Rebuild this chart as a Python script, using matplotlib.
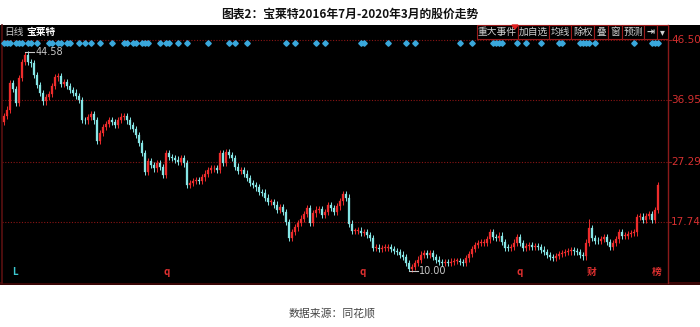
import matplotlib
matplotlib.use('Agg')
import matplotlib.pyplot as plt
from matplotlib.patches import Rectangle
from matplotlib.transforms import blended_transform_factory

plt.rcParams['font.family'] = ['Noto Sans CJK SC', 'DejaVu Sans']

# daily closes (Jul 2016 - Mar 2020), left to right
closes = [34.5, 35.5, 39.7, 38.8, 36.5, 40.5, 43.0, 44.2, 43.0, 42.8,
          41.0, 39.4, 38.1, 36.8, 37.5, 38.0, 39.2, 40.6, 40.8, 39.6,
          39.9, 39.2, 38.6, 38.2, 37.7, 37.0, 33.9, 33.8, 34.3, 34.8,
          33.8, 30.5, 31.8, 32.8, 33.2, 33.8, 33.5, 33.1, 33.9, 34.4,
          34.5, 33.8, 33.0, 32.4, 31.5, 30.2, 28.6, 25.6, 27.4, 26.8,
          26.2, 27.1, 26.4, 25.2, 28.6, 28.0, 27.9, 27.6, 27.2, 27.8,
          27.0, 23.6, 23.9, 24.2, 24.4, 24.3, 24.8, 25.4, 26.0, 26.2,
          26.3, 26.0, 28.6, 27.1, 28.8, 28.3, 27.9, 26.5, 25.8, 25.9,
          25.4, 24.7, 23.9, 23.6, 23.2, 22.5, 22.4, 21.6, 20.9, 20.9,
          20.5, 19.6, 20.1, 19.3, 17.8, 15.2, 16.2, 16.9, 17.6, 18.3,
          19.0, 20.0, 17.6, 19.1, 19.7, 19.8, 18.9, 19.3, 20.4, 20.0,
          19.4, 20.2, 21.0, 22.2, 21.6, 17.5, 16.3, 16.3, 16.4, 16.0,
          16.1, 15.7, 15.2, 13.6, 13.7, 13.5, 13.6, 13.7, 13.8, 13.5,
          13.2, 13.0, 12.6, 12.2, 11.3, 10.4, 10.6, 11.3, 11.8, 12.6,
          12.8, 12.6, 12.9, 12.2, 11.8, 11.4, 11.3, 11.4, 11.3, 11.5,
          11.6, 11.6, 11.4, 11.3, 12.0, 12.7, 13.5, 14.1, 14.4, 14.5,
          14.5, 15.0, 16.2, 15.4, 15.2, 15.6, 14.6, 13.7, 13.6, 13.8,
          14.5, 15.4, 14.4, 13.6, 13.9, 14.1, 13.8, 13.9, 13.8, 13.4,
          13.0, 12.5, 12.2, 12.1, 12.4, 12.7, 12.9, 13.0, 13.1, 13.3,
          13.1, 13.0, 12.5, 12.3, 14.5, 16.8, 15.2, 14.8, 14.7, 15.1,
          15.3, 14.6, 13.8, 14.4, 15.0, 16.2, 15.5, 15.6, 15.8, 16.0,
          16.1, 18.5, 18.6, 18.1, 18.7, 19.0, 18.1, 19.6, 23.6]
first_open = 33.6
# notable wick extremes
high_marks = {7: 44.58, 195: 18.3, 218: 24.1}
low_marks = {135: 10.00}

price_levels = [46.50, 36.95, 27.29, 17.74]
event_idx = [0, 1, 2, 4, 5, 6, 8, 9, 11, 15, 16, 18, 19, 21, 22, 25, 27, 29,
             32, 36, 40, 41, 43, 44, 46, 47, 48, 52, 54, 55, 58, 61, 68, 75,
             77, 81, 94, 97, 104, 107, 119, 120, 128, 134, 137, 152, 156,
             163, 164, 165, 166, 171, 174, 179, 185, 186, 192, 193, 194,
             195, 197, 210, 216, 217, 218]
bottom_marks = [(3.7, 'L', '#3cc8d0'), (54.3, 'q', '#e03030'),
                (119.7, 'q', '#e03030'), (172, 'q', '#e03030'),
                (196, '财', '#e03030'), (217.7, '榜', '#e03030')]
buttons = ['重大事件', '加自选', '均线', '除权', '叠', '窗', '预测', '⇥', '▾']
button_edges = [477, 518, 549, 571, 594, 608, 622, 644, 657, 668]

W, H = 700, 327
fig = plt.figure(figsize=(7, 3.27), dpi=100)
fig.patch.set_facecolor('white')


def px(x, y):
    return x / W, 1 - y / H


# black panel
fig.add_artist(Rectangle(px(0, 284), 1, 259 / H, transform=fig.transFigure,
                         facecolor='black', edgecolor='none', zorder=0))
fig.add_artist(Rectangle(px(0, 285), 1, 3 / H, transform=fig.transFigure,
                         facecolor='#3a0606', edgecolor='none', zorder=0))

ax = fig.add_axes([2 / W, 44 / H, 666 / W, 258 / H])
ax.set_facecolor('black')
ax.set_xlim(-0.67, 221.3)
ax.set_ylim(8.11, 48.87)
ax.set_xticks([])
ax.set_yticks([])
for s in ['top', 'bottom']:
    ax.spines[s].set_visible(False)
ax.spines['left'].set_color('#5a1010')
ax.spines['right'].set_color('#8a1a1a')
ax.spines['left'].set_linewidth(1.2)
ax.spines['right'].set_linewidth(1.0)

for lv in price_levels:
    ax.axhline(lv, color='#8a1515', lw=0.8, ls=(0, (1, 1.5)), zorder=1)

# candles
opens = [first_open] + closes[:-1]
for i, (o, c) in enumerate(zip(opens, closes)):
    up = c >= o
    col = '#ee2c2c' if up else '#86e6e6'
    hi = high_marks.get(i, max(o, c) + 0.5)
    lo = low_marks.get(i, min(o, c) - 0.5)
    ax.vlines(i, lo, hi, color=col, lw=0.7, zorder=3)
    ax.bar(i, max(abs(c - o), 0.12), bottom=min(o, c), width=0.5,
           color=col, edgecolor=col, lw=0.2, zorder=3)

# extreme labels
ax.plot([7, 10], [44.58, 44.58], color='#c8c8c8', lw=0.8, zorder=4)
ax.text(10.6, 44.58, '44.58', color='#c8c8c8', fontsize=7, va='center',
        family='DejaVu Sans')
ax.plot([135, 138], [10.0, 10.0], color='#c8c8c8', lw=0.8, zorder=4)
ax.text(138.3, 10.0, '10.00', color='#c8c8c8', fontsize=7, va='center',
        family='DejaVu Sans')

# event diamonds
ax.plot(event_idx, [46.0] * len(event_idx), 'D', color='#3aa8dc',
        ms=2.8, mec='#3aa8dc', zorder=5, clip_on=False)

# right price labels
tr = blended_transform_factory(ax.transAxes, ax.transData)
for lv in price_levels:
    ax.text(1 + 3 / 666, lv, f'{lv:.2f}', transform=tr, color='#d63030',
            fontsize=7.5, va='center', ha='left', family='DejaVu Sans')
    ax.plot([1, 1 + 3 / 666], [lv, lv], transform=tr, color='#8a1a1a',
            lw=0.8, clip_on=False)

# bottom markers
trb = blended_transform_factory(ax.transData, ax.transAxes)
for xi, lab, col in bottom_marks:
    ax.text(xi, 0.025, lab, transform=trb, color=col, fontsize=7,
            ha='center', va='bottom', fontweight='bold')

# header text
fig.text(*px(4, 32), '日线', color='#c8c8c8', fontsize=7, va='center')
fig.text(*px(26, 32), '宝莱特', color='white', fontsize=7, va='center',
         fontweight='bold')

# toolbar buttons
for lab, x0, x1 in zip(buttons, button_edges[:-1], button_edges[1:]):
    fig.add_artist(Rectangle(px(x0, 39), (x1 - x0) / W, 14 / H,
                             transform=fig.transFigure, facecolor='black',
                             edgecolor='#9a1a1a', lw=0.8, zorder=2))
    fig.text(*px((x0 + x1) / 2, 32), lab, color='#d0d0d0', fontsize=7,
             ha='center', va='center', zorder=3,
             fontweight='bold' if lab in ('⇥', '▾') else 'normal')
fig.add_artist(plt.Polygon([px(512, 25), px(518, 25), px(515, 29)],
                           closed=True, transform=fig.transFigure,
                           color='#e02020', zorder=4))

# title and source
fig.text(0.5, 1 - 14 / H, '图表2：宝莱特2016年7月-2020年3月的股价走势',
         ha='center', va='center', fontsize=8.5, fontweight='bold',
         color='#111111')
fig.text(332 / W, 1 - 313 / H, '数据来源：同花顺', ha='center', va='center',
         fontsize=7.8, color='#444444')

fig.savefig('out.png', dpi=100, facecolor='white')
